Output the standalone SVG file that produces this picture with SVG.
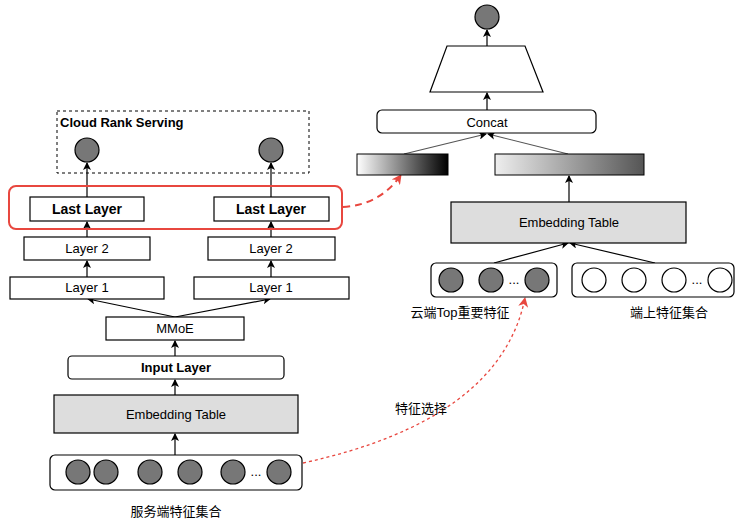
<svg xmlns="http://www.w3.org/2000/svg" width="750" height="523" viewBox="0 0 750 523">
<defs>
<marker id="a" markerWidth="8" markerHeight="8" refX="7" refY="4" orient="auto" markerUnits="userSpaceOnUse"><path d="M0,0 L8,4 L0,8 L2,4 Z" fill="#000"/></marker>
<marker id="r" markerWidth="10" markerHeight="10" refX="9" refY="5" orient="auto" markerUnits="userSpaceOnUse"><path d="M0,0 L10,5 L0,10 L3,5 Z" fill="#e8473f"/></marker>
<linearGradient id="g1"><stop offset="0" stop-color="#fff"/><stop offset="1" stop-color="#000"/></linearGradient>
<linearGradient id="g2"><stop offset="0" stop-color="#eee"/><stop offset="1" stop-color="#555"/></linearGradient>
<style>
.b{fill:#fff;stroke:#000;stroke-width:1.2}
.gr{fill:#ddd;stroke:#000;stroke-width:1.2}
.c{fill:#777;stroke:#000;stroke-width:1.2}
.w{fill:#fff;stroke:#000;stroke-width:1.2}
text{font-family:"Liberation Sans",Arial,"Noto Sans CJK SC",sans-serif;font-size:13px;text-anchor:middle;fill:#000}
.bd{font-weight:bold}
.l{stroke:#000;stroke-width:1.2;fill:none;marker-end:url(#a)}
.lg{stroke:#555;stroke-width:1.2;fill:none;marker-end:url(#a)}
</style>
</defs>
<g id="connectors">
<line class="l" x1="87" y1="197" x2="87" y2="163"/>
<line class="l" x1="271" y1="197" x2="271" y2="163"/>
<line class="l" x1="87" y1="237" x2="87" y2="222"/>
<line class="l" x1="271" y1="237" x2="271" y2="222"/>
<line class="l" x1="87" y1="277" x2="87" y2="261"/>
<line class="l" x1="271" y1="277" x2="271" y2="261"/>
<line class="l" x1="175" y1="317" x2="88" y2="299"/>
<line class="l" x1="175" y1="317" x2="270" y2="299"/>
<line class="l" x1="175" y1="356" x2="175" y2="341"/>
<line class="l" x1="175" y1="395" x2="175" y2="380"/>
<line class="l" x1="175" y1="455" x2="175" y2="434"/>
<line class="l" x1="569" y1="202" x2="569" y2="176"/>
<line class="l" x1="494" y1="263" x2="568" y2="243"/>
<line class="l" x1="655" y1="263" x2="570" y2="243"/>
<line class="lg" x1="404" y1="154" x2="486" y2="134"/>
<line class="lg" x1="568" y1="154" x2="488" y2="134"/>
<line class="l" x1="487" y1="110" x2="487" y2="93"/>
<line class="l" x1="487" y1="46" x2="487" y2="30"/>
<path d="M343,207 Q380,205 401,175" stroke="#e8473f" stroke-width="2" stroke-dasharray="7,5" fill="none" marker-end="url(#r)"/>
<path d="M303,463 Q500,420 525,298" stroke="#e8473f" stroke-width="1.3" stroke-dasharray="3,3" fill="none" marker-end="url(#r)"/>
</g>
<g id="cloud-rank"><rect x="57" y="111" width="252" height="62" fill="none" stroke="#000" stroke-dasharray="3,3"/><text x="60" y="127" class="bd" style="text-anchor:start">Cloud Rank Serving</text>
<circle class="c" cx="87" cy="150" r="12"/><circle class="c" cx="271" cy="150" r="12"/></g>
<g id="red-box"><rect x="9" y="186" width="333" height="43" rx="7" fill="none" stroke="#e8473f" stroke-width="2"/></g>
<g id="last1"><rect class="b" x="30" y="197" width="114" height="24"/><text x="87" y="214" class="bd" style="font-size:14px">Last Layer</text></g>
<g id="last2"><rect class="b" x="214" y="197" width="115" height="24"/><text x="271" y="214" class="bd" style="font-size:14px">Last Layer</text></g>
<g id="l2a"><rect class="b" x="24" y="237" width="126" height="23"/><text x="87" y="253">Layer 2</text></g>
<g id="l2b"><rect class="b" x="208" y="237" width="127" height="23"/><text x="271" y="253">Layer 2</text></g>
<g id="l1a"><rect class="b" x="10" y="277" width="154" height="22"/><text x="87" y="292">Layer 1</text></g>
<g id="l1b"><rect class="b" x="194" y="277" width="155" height="22"/><text x="271" y="292">Layer 1</text></g>
<g id="mmoe"><rect class="b" x="106" y="317" width="138" height="23"/><text x="175" y="333">MMoE</text></g>
<g id="input"><rect class="b" x="68" y="356" width="216" height="23" rx="4"/><text x="176" y="372" class="bd">Input Layer</text></g>
<g id="emb-l"><rect class="gr" x="54" y="395" width="244" height="38"/><text x="176" y="419">Embedding Table</text></g>
<g id="server-feat"><rect class="b" x="50" y="455" width="252" height="35" rx="5"/>
<circle class="c" cx="78" cy="472" r="12"/><circle class="c" cx="106" cy="472" r="12"/><circle class="c" cx="150" cy="472" r="12"/><circle class="c" cx="190" cy="472" r="12"/><circle class="c" cx="233" cy="472" r="12"/><circle class="c" cx="279" cy="472" r="12"/><text x="256" y="476">...</text>
<text x="176" y="516">服务端特征集合</text></g>
<text x="421" y="413">特征选择</text>
<g id="out"><circle class="c" cx="487" cy="17" r="12"/></g>
<g id="trap"><polygon class="w" points="447,46 525,46 543,92 430,92"/></g>
<g id="concat"><rect class="b" x="377" y="110" width="219" height="23" rx="5"/><text x="487" y="127">Concat</text></g>
<g id="bar1"><rect x="357" y="154" width="91" height="21" fill="url(#g1)" stroke="#000"/></g>
<g id="bar2"><rect x="495" y="154" width="149" height="21" fill="url(#g2)" stroke="#000"/></g>
<g id="emb-r"><rect class="gr" x="451" y="202" width="235" height="41"/><text x="569" y="227">Embedding Table</text></g>
<g id="top-feat"><rect class="b" x="431" y="263" width="126" height="34" rx="5"/>
<circle class="c" cx="451" cy="280" r="12"/><circle class="c" cx="491" cy="280" r="12"/><circle class="c" cx="537" cy="280" r="12"/><text x="514" y="284">...</text>
<text x="460" y="317">云端Top重要特征</text></g>
<g id="dev-feat"><rect class="b" x="572" y="263" width="162" height="34" rx="5"/>
<circle class="w" cx="594" cy="280" r="12"/><circle class="w" cx="634" cy="280" r="12"/><circle class="w" cx="674" cy="280" r="12"/><circle class="w" cx="720" cy="280" r="12"/><text x="697" y="284">...</text>
<text x="669" y="317">端上特征集合</text></g>
</svg>
